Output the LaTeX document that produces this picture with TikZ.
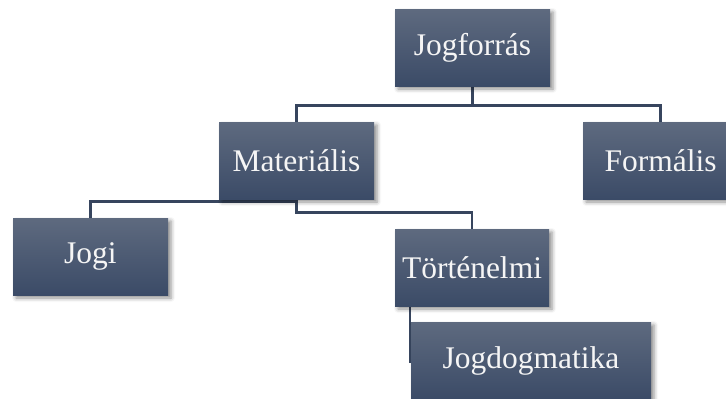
\documentclass[tikz,border=0pt]{standalone}
\usepackage{fontspec}
\setmainfont{Liberation Serif}
\usetikzlibrary{shadows.blur,backgrounds}
\definecolor{boxtop}{RGB}{94,106,127}
\definecolor{boxbot}{RGB}{59,75,103}
\definecolor{linec}{RGB}{55,69,94}
\definecolor{txt}{RGB}{245,245,245}
\tikzset{
  hbox/.style={rectangle, top color=boxtop, bottom color=boxbot, draw=none,
    minimum height=77pt, inner sep=0pt, text=txt,
    font=\fontsize{31.5pt}{36pt}\selectfont,
    blur shadow={shadow xshift=3pt, shadow yshift=-3pt, shadow blur radius=4pt, shadow opacity=45}},
  conn/.style={draw=linec, line width=2.6pt}
}
\begin{document}
\begin{tikzpicture}[x=1pt,y=-1pt]
\useasboundingbox (0,0) rectangle (726,399);
% nodes
\node[hbox, minimum width=155pt] (jf) at (472.5,47.5) {Jogforrás};
\node[hbox, minimum width=155pt] (mat) at (296.5,160.5) {Materiális};
\node[hbox, minimum width=155pt] (form) at (660.5,160.5) {Formális};
\node[hbox, minimum width=155pt] (jogi) at (90.5,256.5) {Jogi};
\node[hbox, minimum width=154pt] (tort) at (472,267.5) {Történelmi};
\node[hbox, minimum width=240pt] (jogd) at (531,360.5) {Jogdogmatika};
% connectors (behind)
\begin{scope}[on background layer]
\draw[conn] (jf.south) -- ++(0,19) coordinate (b1) -| (mat.north);
\draw[conn] (b1) -| (form.north);
\draw[conn] ([yshift=-2pt]mat.south) -| (jogi.north);
\draw[conn] (mat.south) -- ++(0,13) -| (tort.north);
\draw[conn] ([xshift=-1pt]jogd.west |- tort.south) -- ([xshift=-1pt,yshift=-2pt]jogd.west);
\end{scope}
\end{tikzpicture}
\end{document}
